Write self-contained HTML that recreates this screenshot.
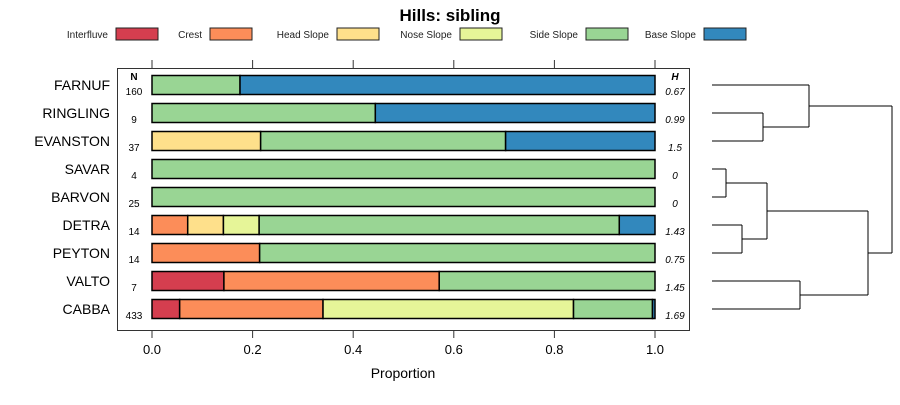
<!DOCTYPE html>
<html><head><meta charset="utf-8"><style>
body{margin:0;background:#fff;}
svg{font-family:"Liberation Sans",sans-serif;}
</style></head><body>
<svg id="c" width="900" height="400"></svg>
<script>
const categories=["FARNUF","RINGLING","EVANSTON","SAVAR","BARVON","DETRA","PEYTON","VALTO","CABBA"];
const nValues=["160","9","37","4","25","14","14","7","433"];
const hValues=["0.67","0.99","1.5","0","0","1.43","0.75","1.45","1.69"];
const seriesNames=["Interfluve","Crest","Head Slope","Nose Slope","Side Slope","Base Slope"];
const interfluve=[0,0,0,0,0,0,0,0.143,0.055];
const crest=[0,0,0,0,0,0.071,0.214,0.428,0.285];
const headSlope=[0,0,0.216,0,0,0.071,0,0,0];
const noseSlope=[0,0,0,0,0,0.071,0,0,0.498];
const sideSlope=[0.175,0.444,0.487,1,1,0.716,0.786,0.429,0.157];
const baseSlope=[0.825,0.556,0.297,0,0,0.071,0,0,0.005];
const xTicks=[0,0.2,0.4,0.6,0.8,1];
const xTickLabels=["0.0","0.2","0.4","0.6","0.8","1.0"];
const colors=["#D53E4F","#FC8D59","#FEE08B","#E6F598","#99D594","#3288BD"];
const series=[interfluve,crest,headSlope,noseSlope,sideSlope,baseSlope];
const NS="http://www.w3.org/2000/svg",svg=document.getElementById('c');
function el(t,a,txt){const e=document.createElementNS(NS,t);for(const k in a)e.setAttribute(k,a[k]);if(txt!==undefined)e.textContent=txt;svg.appendChild(e);return e;}
const x=v=>152+v*503;
const y=i=>85+i*28;
let t=el('text',{x:450,y:21,'text-anchor':'middle','font-size':17,'font-weight':'bold'},'Hills: sibling');

const legBox=[116,210,337,460,586,704];
seriesNames.forEach((n,k)=>{
 let tx=el('text',{x:legBox[k]-8,y:38,'text-anchor':'end','font-size':10,fill:'#222'},n);
 
 let r=el('rect',{x:legBox[k],y:28,width:42,height:12,fill:colors[k],stroke:'#222','stroke-width':1});
 
});
let p=el('rect',{x:117.5,y:68.5,width:572,height:262,fill:'none',stroke:'#333','stroke-width':1});

xTicks.forEach((v,k)=>{
 el('line',{x1:x(v),x2:x(v),y1:60,y2:68,stroke:'#333'});
 el('line',{x1:x(v),x2:x(v),y1:330,y2:338,stroke:'#333'});
 let tl=el('text',{x:x(v),y:354,'text-anchor':'middle','font-size':13},xTickLabels[k]);
 
});
let xt=el('text',{x:403,y:378,'text-anchor':'middle','font-size':14},'Proportion');

el('text',{x:134,y:80,'text-anchor':'middle','font-size':10,'font-weight':'bold'},'N');
el('text',{x:675,y:80,'text-anchor':'middle','font-size':10,'font-weight':'bold','font-style':'italic'},'H');
categories.forEach((c,i)=>{
 let cl=el('text',{x:110,y:y(i)+5,'text-anchor':'end','font-size':14},c);
 
 let nl=el('text',{x:134,y:y(i)+10,'text-anchor':'middle','font-size':10},nValues[i]);
 
 let hl=el('text',{x:675,y:y(i)+10,'text-anchor':'middle','font-size':10,'font-style':'italic'},hValues[i]);
 
 let acc=0;
 series.forEach((s,k)=>{
  if(s[i]>0){
   let r=el('rect',{x:x(acc),y:y(i)-9.5,width:x(acc+s[i])-x(acc),height:19,fill:colors[k],stroke:'#000','stroke-width':1.5});
   
  }
  acc+=s[i];
 });
});
// dendrogram
const d=[[712,85,809],[712,113,763],[712,141,763],[763,113,763,141],[809,85,809,127],[763,127,809],
[712,169,726],[712,197,726],[726,169,726,197],[712,225,742],[712,253,742],[742,225,742,253],
[726,183,767],[742,239,767],[767,183,767,239],[712,281,800],[712,309,800],[800,281,800,309],
[767,211,868],[800,295,868],[868,211,868,295],[809,106,892],[868,253,892],[892,106,892,253]];
d.forEach(s=>{
 let l=s.length===3?el('line',{x1:s[0],y1:s[1],x2:s[2],y2:s[1],stroke:'#000'}):el('line',{x1:s[0],y1:s[1],x2:s[2],y2:s[3],stroke:'#000'});
 
});
</script>
</body></html>
